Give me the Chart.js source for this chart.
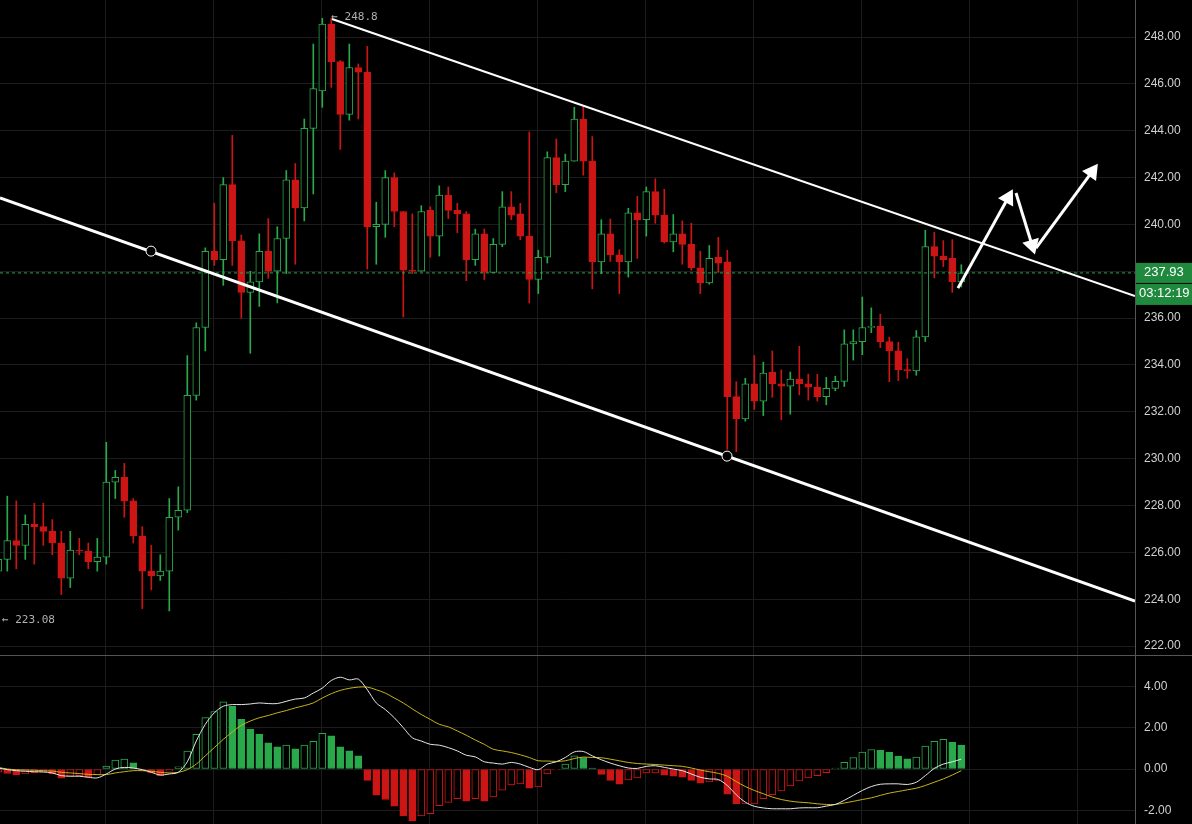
<!DOCTYPE html>
<html>
<head>
<meta charset="utf-8">
<script src="https://cdn.jsdelivr.net/npm/chart.js@4"></script>
<style>
    html, body { margin: 0; padding: 0; background: #000; overflow: hidden; }
    #wrapPrice { position: absolute; left: 0; top: 0; width: 1192px; height: 655px; }
    #wrapMacd { position: absolute; left: 0; top: 655px; width: 1192px; height: 169px; border-top: 1px solid #555; box-sizing: border-box; }
</style>
</head>
<body>
<div id="wrapPrice"><canvas id="chartPrice"></canvas></div>
<div id="wrapMacd"><canvas id="chartMacd"></canvas></div>
<script>
// candle data, one entry per candle (index = x position)
const opens = [225.2,225.7,226.5,226.3,227.2,227.1,226.9,226.4,224.9,226.1,226.05,225.6,225.8,229.0,229.2,228.2,226.7,225.2,225.0,225.2,
    227.5,227.8,232.7,235.6,238.85,238.5,241.7,239.3,237.1,237.55,238.85,238.0,239.4,241.9,240.7,244.1,245.7,248.55,246.95,244.7,
    246.7,246.5,239.9,240.0,242.0,240.55,238.05,238.0,240.6,239.5,241.25,240.6,240.45,238.5,239.6,237.95,239.15,240.75,240.45,239.5,
    237.65,238.6,242.85,241.7,242.7,244.5,242.7,238.4,239.6,238.7,238.4,240.5,240.2,241.4,240.4,239.25,239.6,239.15,238.15,237.5,
    238.6,238.4,232.65,231.7,233.2,232.45,233.7,233.2,233.1,233.4,233.2,233.05,232.65,233.0,233.3,234.9,235.0,235.6,235.65,235.0,
    234.6,233.8,233.75,235.2,239.05,238.65,238.55,237.55];
const highs = [225.9,228.4,228.2,227.6,228.1,228.1,227.4,226.9,226.9,226.6,226.4,226.6,230.7,229.5,229.8,228.3,227.1,226.3,225.9,228.3,
    228.8,234.4,235.8,239.0,240.9,242.0,243.8,239.55,238.0,239.6,240.25,239.9,242.3,242.6,244.5,247.7,248.8,248.8,247.0,247.7,
    246.85,247.6,240.95,242.3,242.2,240.55,240.45,240.8,240.75,241.65,241.6,240.9,240.55,239.8,239.8,239.4,241.4,241.4,240.9,243.95,
    238.9,243.1,243.65,243.0,245.0,245.05,243.75,240.2,240.23,238.92,240.69,241.2,241.6,241.95,241.5,240.42,240.15,240.05,238.86,239.1,
    239.45,238.9,233.29,233.43,234.4,234.12,234.6,233.79,233.7,234.8,233.61,233.6,233.47,233.52,235.5,235.5,236.9,236.44,236.17,235.19,
    234.97,234.27,235.47,239.75,239.66,239.31,239.35,238.28];
const lows = [225.1,225.2,225.3,225.7,225.5,226.3,225.9,224.2,224.5,225.9,225.3,225.2,225.5,228.3,227.5,226.4,223.6,224.4,224.8,223.5,
    226.95,227.7,232.5,234.6,238.25,237.4,238.25,236.0,234.5,236.5,237.7,236.65,237.9,238.3,240.15,241.3,245.0,245.85,243.2,244.45,
    244.5,238.1,238.3,239.45,239.9,236.05,237.9,238.0,238.6,238.65,240.25,239.65,237.6,238.25,237.65,237.95,239.05,240.2,239.35,236.65,
    237.05,238.35,241.35,241.4,242.7,242.1,237.25,237.9,238.42,237.05,237.75,238.55,239.5,240.05,239.2,238.83,238.3,238.05,237.05,237.45,
    237.95,230.4,230.3,231.6,232.1,231.84,232.62,231.66,231.9,232.73,232.5,232.46,232.3,232.9,233.08,234.21,234.44,235.38,234.74,233.29,
    233.33,233.43,233.56,235.0,237.72,238.2,237.1,237.33];
const closes = [225.7,226.5,226.3,227.2,227.1,226.9,226.4,224.9,226.1,226.05,225.6,225.8,229.0,229.2,228.2,226.7,225.2,225.0,225.2,227.5,
    227.8,232.7,235.6,238.85,238.5,241.7,239.3,237.1,237.55,238.85,238.0,239.4,241.9,240.7,244.1,245.8,248.55,246.95,244.7,246.7,
    246.5,239.9,240.0,242.0,240.55,238.05,238.0,240.55,239.5,241.25,240.6,240.45,238.5,239.6,237.95,239.15,240.75,240.4,239.5,237.65,
    238.6,242.85,241.7,242.7,244.5,242.7,238.4,239.6,238.7,238.4,240.5,240.2,241.4,240.4,239.25,239.6,239.15,238.15,237.5,238.55,
    238.35,232.65,231.7,233.2,232.45,233.65,233.2,233.1,233.4,233.2,233.05,232.65,233.0,233.3,234.9,235.0,235.6,235.65,235.0,234.6,
    233.8,233.75,235.2,239.05,238.65,238.5,237.55,237.93];

// MACD panel
const histogram = [-0.15,-0.21,-0.29,-0.24,-0.18,-0.16,-0.24,-0.45,-0.35,-0.32,-0.40,-0.29,0.14,0.43,0.48,0.30,-0.08,-0.19,-0.32,-0.11,
    0.11,0.87,1.69,2.50,2.79,3.27,3.05,2.42,1.94,1.70,1.27,1.08,1.16,0.98,1.16,1.35,1.73,1.61,1.08,0.88,
    0.64,-0.55,-1.27,-1.48,-1.80,-2.28,-2.52,-2.28,-2.17,-1.78,-1.62,-1.44,-1.56,-1.44,-1.56,-1.35,-1.03,-0.77,-0.72,-0.93,
    -0.87,-0.24,-0.04,0.24,0.64,0.56,0.05,-0.26,-0.55,-0.74,-0.53,-0.43,-0.19,-0.19,-0.30,-0.35,-0.40,-0.55,-0.69,-0.63,
    -0.55,-1.22,-1.70,-1.70,-1.69,-1.44,-1.24,-1.06,-0.82,-0.58,-0.43,-0.32,-0.18,0.05,0.32,0.56,0.82,0.95,0.91,0.82,
    0.63,0.50,0.58,1.11,1.35,1.44,1.30,1.16];
const macdLine = [0.05,-0.03,-0.08,-0.11,-0.13,-0.14,-0.19,-0.32,-0.35,-0.35,-0.40,-0.43,-0.24,0,0.08,0.05,-0.03,-0.16,-0.29,-0.24,
    -0.16,0.35,1.36,2.17,2.73,3.05,3.13,3.13,3.16,3.21,3.18,3.18,3.29,3.40,3.45,3.69,3.93,4.30,4.46,4.33,
    4.37,3.85,3.21,2.89,2.49,2.01,1.52,1.36,1.20,1.16,1.04,0.88,0.67,0.59,0.35,0.29,0.24,0.32,0.24,0.08,
    -0.03,0.24,0.35,0.56,0.83,0.85,0.64,0.45,0.29,0.16,0.05,0.03,0.13,0.16,0.08,0,-0.08,-0.24,-0.40,-0.48,
    -0.51,-0.80,-1.25,-1.61,-1.81,-1.89,-1.93,-1.93,-1.93,-1.89,-1.88,-1.88,-1.80,-1.72,-1.52,-1.28,-1.04,-0.85,-0.74,-0.72,
    -0.72,-0.75,-0.64,-0.32,0.03,0.24,0.35,0.48];
const signalLine = [0.08,0,-0.03,-0.05,-0.06,-0.08,-0.10,-0.16,-0.19,-0.22,-0.26,-0.27,-0.27,-0.19,-0.13,-0.08,-0.08,-0.11,-0.16,-0.19,
    -0.16,-0.03,0.24,0.64,1.04,1.44,1.80,2.12,2.33,2.49,2.60,2.73,2.84,2.97,3.08,3.21,3.45,3.66,3.82,3.92,
    3.98,3.98,3.85,3.69,3.45,3.21,2.92,2.65,2.41,2.17,2.05,1.85,1.64,1.41,1.20,0.96,0.88,0.80,0.69,0.56,
    0.40,0.39,0.37,0.40,0.51,0.58,0.56,0.55,0.48,0.40,0.32,0.27,0.24,0.22,0.19,0.16,0.13,0.05,-0.05,-0.13,
    -0.21,-0.35,-0.61,-0.85,-1.04,-1.20,-1.36,-1.48,-1.56,-1.61,-1.64,-1.69,-1.72,-1.72,-1.65,-1.57,-1.48,-1.40,-1.28,-1.17,
    -1.09,-1.01,-0.93,-0.80,-0.64,-0.48,-0.29,-0.08];

// drawings on the price chart: [x index, price]
const upperTrend = [[37.08, 248.77], [126.3, 236.94]];
const lowerTrend = [[0.19, 241.13], [126.3, 223.92]];
const trendAnchors = [[16.97, 238.86], [80.97, 230.11]];
const arrows = [
    [[106.63, 237.28], [112.19, 241.13]],
    [[113.08, 241.34], [114.86, 239.12]],
    [[115.3, 238.99], [121.52, 242.24]]
];
const arrowAngles = [29, 163, 36];

const priceTicks = [222, 224, 226, 228, 230, 232, 234, 236, 238, 240, 242, 244, 246, 248];
const macdTicks = [-2, 0, 2, 4];
const lastPrice = 237.93;
const countdown = '03:12:19';
const highLabel = '\u2190 248.8';
const lowLabel = '\u2190 223.08';

const GREEN = '#2aa84c';
const RED = '#cc1515';
const GRID = '#1c1c1c';
const X_MIN = 0.19, X_MAX = 126.3;

const pts = arr => arr.map(p => ({ x: p[0], y: p[1] }));
const xGridTicks = [];
for (let v = 11.86; v < X_MAX; v += 12) xGridTicks.push(v);

function noPad(s) {
    s.paddingTop = 0; s.paddingBottom = 0; s.paddingLeft = 0; s.paddingRight = 0;
}
function xScale() {
    return {
        type: 'linear', min: X_MIN, max: X_MAX, offset: false,
        grid: { color: GRID, drawTicks: false, offset: false },
        border: { display: false },
        ticks: { display: false },
        afterBuildTicks: s => { s.ticks = xGridTicks.map(v => ({ value: v })); },
        afterFit: s => { s.height = 0; noPad(s); }
    };
}
function yScale(min, max, ticks) {
    return {
        position: 'right', min: min, max: max,
        grid: { color: GRID, drawTicks: false },
        border: { color: '#555' },
        ticks: { color: '#d0d0d0', font: { family: 'Liberation Sans', size: 12 }, padding: 9,
            callback: v => v.toFixed(2) },
        afterBuildTicks: s => { s.ticks = ticks.map(v => ({ value: v })); },
        afterFit: s => { s.width = 57; noPad(s); }
    };
}

const up = opens.map((o, i) => closes[i] >= o);
const wickData = opens.map((o, i) => ({ x: i, y: [lows[i], highs[i]] }));
const bodyData = opens.map((o, i) => ({ x: i, y: [Math.min(o, closes[i]), Math.max(o, closes[i])] }));

const priceLabels = {
    id: 'priceLabels',
    afterDraw(chart) {
        const ctx = chart.ctx;
        const xs = chart.scales.x, ys = chart.scales.y;
        const y = ys.getPixelForValue(lastPrice);
        const left = chart.chartArea.right + 1;
        ctx.save();
        ctx.fillStyle = '#1f8a3e';
        ctx.fillRect(left, y - 10, 57, 20);
        ctx.fillRect(left, y + 11, 57, 21);
        ctx.fillStyle = '#fff';
        ctx.font = '13px "Liberation Sans"';
        ctx.textBaseline = 'middle';
        ctx.fillText(lastPrice.toFixed(2), left + 8, y);
        ctx.fillText(countdown, left + 3, y + 21);
        ctx.fillStyle = '#b0b0b0';
        ctx.font = '11px "DejaVu Sans Mono"';
        ctx.fillText(highLabel, xs.getPixelForValue(36) + 9, ys.getPixelForValue(Math.max(...highs)) - 1);
        ctx.fillText(lowLabel, 2, ys.getPixelForValue(223.1));
        ctx.restore();
    }
};

const priceDatasets = [
    { type: 'bar', data: wickData, grouped: false, barThickness: 1, order: 3,
      backgroundColor: up.map(u => u ? GREEN : RED) },
    { type: 'bar', data: bodyData, grouped: false, barThickness: 7, order: 2, minBarLength: 1,
      backgroundColor: up.map(u => u ? '#000' : RED),
      borderColor: up.map(u => u ? GREEN : RED), borderWidth: 1, borderSkipped: false },
    { type: 'line', data: [{ x: X_MIN, y: lastPrice }, { x: X_MAX, y: lastPrice }], order: 1,
      borderColor: GREEN, borderWidth: 1, borderDash: [3, 3], pointRadius: 0 },
    { type: 'line', data: pts(upperTrend), order: 0, borderColor: '#fff', borderWidth: 2, pointRadius: 0 },
    { type: 'line', data: pts(lowerTrend), order: 0, borderColor: '#fff', borderWidth: 3, pointRadius: 0 },
    { type: 'line', data: pts(trendAnchors), order: -1, showLine: false, pointRadius: 5,
      pointBackgroundColor: '#000', pointBorderColor: '#fff', pointBorderWidth: 1 }
];
arrows.forEach((a, i) => {
    priceDatasets.push({ type: 'line', data: pts(a), order: -1, borderColor: '#fff', borderWidth: 3,
        pointStyle: 'triangle', pointRadius: [0, 7], pointRotation: [0, arrowAngles[i]],
        pointBackgroundColor: '#fff', pointBorderColor: '#fff' });
});

new Chart(document.getElementById('chartPrice'), {
    type: 'bar',
    data: { datasets: priceDatasets },
    options: {
        responsive: true, maintainAspectRatio: false, animation: false,
        layout: { padding: 0, autoPadding: false },
        plugins: { legend: { display: false }, tooltip: { enabled: false } },
        scales: { x: xScale(), y: yScale(221.62, 249.58, priceTicks) }
    },
    plugins: [priceLabels]
});

// histogram style: filled when the bar is lower than the previous one, hollow when higher
const histFill = histogram.map((v, i) => {
    const prev = i > 0 ? histogram[i - 1] : v;
    const col = v >= 0 ? GREEN : RED;
    return v < prev ? col : '#000';
});
const histBorder = histogram.map(v => v >= 0 ? GREEN : RED);

new Chart(document.getElementById('chartMacd'), {
    type: 'bar',
    data: {
        datasets: [
            { type: 'line', data: macdLine.map((v, i) => ({ x: i, y: v })), order: 0,
              borderColor: '#e6e6e6', borderWidth: 1, pointRadius: 0, tension: 0.3 },
            { type: 'line', data: signalLine.map((v, i) => ({ x: i, y: v })), order: 0,
              borderColor: '#c9b31a', borderWidth: 1, pointRadius: 0, tension: 0.3 },
            { type: 'bar', data: histogram.map((v, i) => ({ x: i, y: v })), order: 1, barThickness: 7,
              backgroundColor: histFill, borderColor: histBorder, borderWidth: 1, borderSkipped: false }
        ]
    },
    options: {
        responsive: true, maintainAspectRatio: false, animation: false,
        layout: { padding: 0, autoPadding: false },
        plugins: { legend: { display: false }, tooltip: { enabled: false } },
        scales: { x: xScale(), y: yScale(-2.67, 5.49, macdTicks) }
    }
});
</script>
</body>
</html>
